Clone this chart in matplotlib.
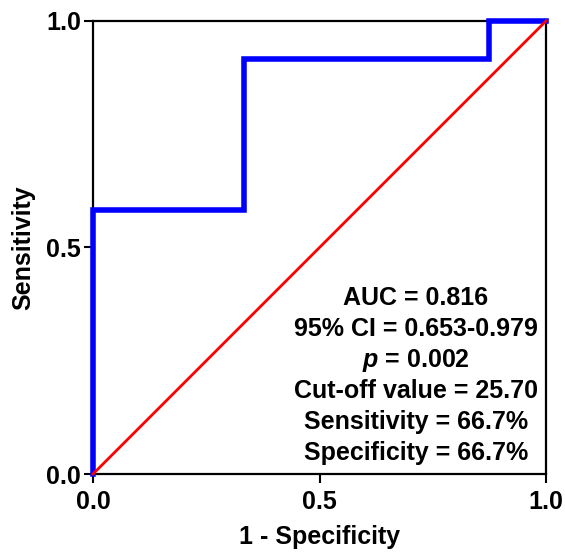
import matplotlib
matplotlib.use("Agg")
import matplotlib.pyplot as plt

# ROC curve (step points)
fpr = [0.0, 0.0, 0.333, 0.333, 0.875, 0.875, 1.0]
tpr = [0.0, 0.583, 0.583, 0.917, 0.917, 1.0, 1.0]
ref_line = [0.0, 1.0]

stats_lines = [
    "AUC = 0.816",
    "95% CI = 0.653-0.979",
    "$p$ = 0.002",
    "Cut-off value = 25.70",
    "Sensitivity = 66.7%",
    "Specificity = 66.7%",
]
ticks = [0.0, 0.5, 1.0]
tick_labels = ["0.0", "0.5", "1.0"]

plt.rcParams["font.family"] = ["Liberation Sans", "DejaVu Sans"]
plt.rcParams["font.weight"] = "bold"
plt.rcParams["mathtext.fontset"] = "custom"
plt.rcParams["mathtext.it"] = "Liberation Sans:italic:bold"
plt.rcParams["mathtext.rm"] = "Liberation Sans:bold"

fig = plt.figure(figsize=(5.65, 5.54), dpi=100)
ax = fig.add_axes([0.1646, 0.1444, 0.8018, 0.8177])

ax.plot(fpr, tpr, color="#0000ff", lw=4.0, solid_joinstyle="miter",
        clip_on=False, zorder=3)
ax.plot(ref_line, ref_line, color="#ff0000", lw=2.0, clip_on=False, zorder=4)

ax.set_xlim(0, 1)
ax.set_ylim(0, 1)
ax.set_xticks(ticks)
ax.set_xticklabels(tick_labels)
ax.set_yticks(ticks)
ax.set_yticklabels(tick_labels)
ax.tick_params(direction="out", length=6.5, width=1.5, labelsize=18)
ax.tick_params(axis="x", pad=5)
ax.tick_params(axis="y", pad=2)
for s in ax.spines.values():
    s.set_linewidth(1.6)

ax.set_xlabel("1 - Specificity", fontsize=18, fontweight="bold", labelpad=8)
ax.set_ylabel("Sensitivity", fontsize=18, fontweight="bold", labelpad=8)

y0 = 0.388
dy = 0.0685
for i, line in enumerate(stats_lines):
    ax.text(0.713, y0 - i * dy, line, ha="center", va="center",
            fontsize=18, fontweight="bold")

fig.savefig("out.png", dpi=100)
